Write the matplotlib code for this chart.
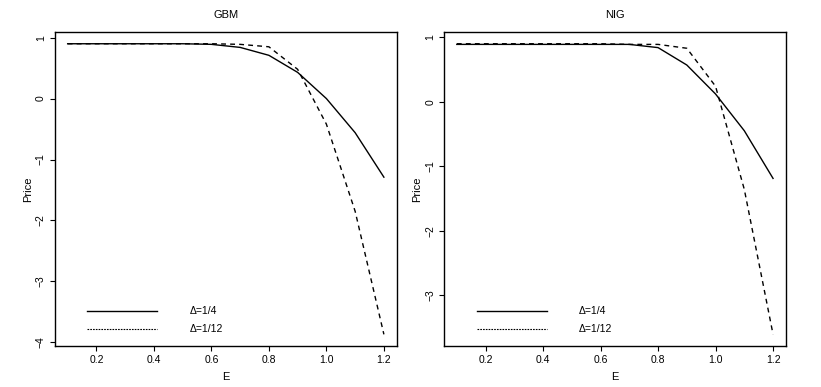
import matplotlib
matplotlib.use('Agg')

import matplotlib.pyplot as plt
import numpy as np

plt.rcParams['font.family'] = ['Liberation Sans', 'DejaVu Sans']

strike = np.array([0.1, 0.2, 0.3, 0.4, 0.5, 0.6, 0.7, 0.8, 0.9, 1.0, 1.1, 1.2])

gbm_quarter = np.array([0.9, 0.9, 0.9, 0.9, 0.9, 0.89, 0.84, 0.71, 0.43, 0.0, -0.56, -1.29])
gbm_twelfth = np.array([0.9, 0.9, 0.9, 0.9, 0.9, 0.9, 0.89, 0.85, 0.48, -0.42, -1.85, -3.87])

nig_quarter = np.array([0.89, 0.89, 0.89, 0.89, 0.89, 0.89, 0.89, 0.84, 0.57, 0.12, -0.45, -1.19])
nig_twelfth = np.array([0.9, 0.9, 0.9, 0.9, 0.9, 0.9, 0.89, 0.89, 0.83, 0.24, -1.36, -3.61])

panels = [
    ('GBM', gbm_quarter, gbm_twelfth, [1, 0, -1, -2, -3, -4]),
    ('NIG', nig_quarter, nig_twelfth, [1, 0, -1, -2, -3]),
]
xticks = [0.2, 0.4, 0.6, 0.8, 1.0, 1.2]
labels = ['\u0394=1/4', '\u0394=1/12']

fig = plt.figure(figsize=(8.21, 3.87), dpi=100)
lefts = [0.067, 0.541]

for left, (title, y1, y2, yticks) in zip(lefts, panels):
    ax = fig.add_axes([left, 0.106, 0.416, 0.811])
    ax.plot(strike, y1, 'k-', linewidth=1.0)
    ax.plot(strike, y2, 'k', linestyle=(0, (3.5, 3)), linewidth=1.0)
    ax.margins(x=0.04, y=0.04)
    ax.set_xticks(xticks)
    ax.set_xticklabels(['%.1f' % v for v in xticks])
    ax.set_yticks(yticks)
    ax.set_yticklabels([('%d' % v).replace('-', '\u2212') for v in yticks],
                       rotation=90, va='center')
    ax.tick_params(direction='out', length=3.5, width=0.8, labelsize=7.5, pad=3)
    for s in ax.spines.values():
        s.set_linewidth(1.0)
    ax.set_title(title, fontsize=8, pad=10)
    ax.set_xlabel('E', fontsize=8, labelpad=5)
    ax.set_ylabel('Price', fontsize=8, labelpad=2)

    # legend drawn manually in axes fraction (no box)
    ax.plot([0.095, 0.30], [0.11, 0.11], 'k-', linewidth=1.0, transform=ax.transAxes)
    ax.plot([0.095, 0.30], [0.053, 0.053], 'k', linestyle=(0, (1.5, 1)), linewidth=0.8,
            transform=ax.transAxes)
    ax.text(0.395, 0.11, labels[0], fontsize=7.5, va='center', transform=ax.transAxes)
    ax.text(0.395, 0.053, labels[1], fontsize=7.5, va='center', transform=ax.transAxes)

fig.savefig('out.png', dpi=100)
